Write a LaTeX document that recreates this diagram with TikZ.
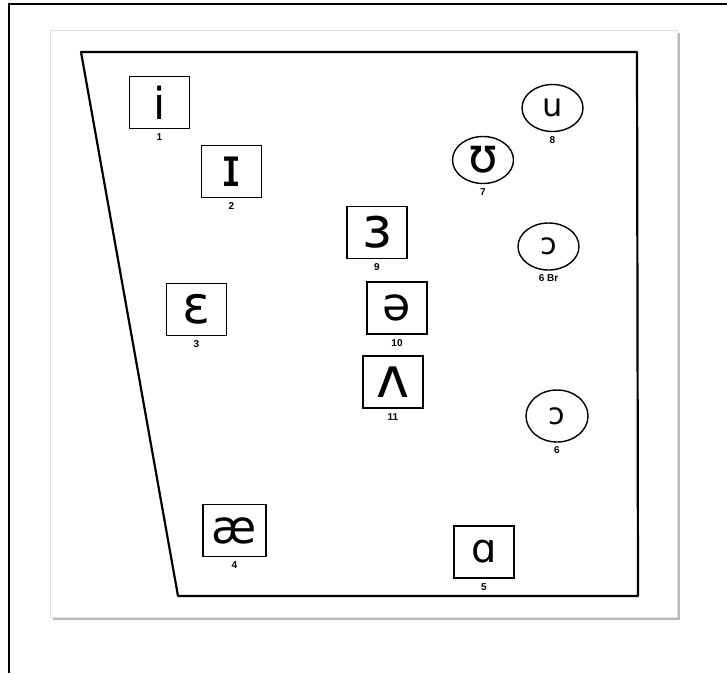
\documentclass[tikz,border=0pt]{standalone}
\usepackage{fontspec}
\setmainfont{Liberation Sans}
\newfontfamily\ipafont{DejaVu Sans}
\usetikzlibrary{positioning,shapes.geometric}

\begin{document}
\begin{tikzpicture}[x=1pt,y=-1pt,
  vowelbox/.style={draw,line width=1.6pt,minimum width=60pt,minimum height=52pt,inner sep=0pt,font=\ipafont\fontsize{#1}{#1}\selectfont},
  vowelring/.style={draw,ellipse,line width=1.4pt,minimum width=61pt,minimum height=47pt,inner sep=0pt,font=\ipafont\fontsize{#1}{#1}\selectfont},
  num/.style={inner sep=1pt,font=\fontsize{10}{10}\selectfont\bfseries}]
  \useasboundingbox (0,0) rectangle (727,673);
  \draw[line width=2pt] (9,673) -- (9,4) -- (727,4);
  \fill[gray!55] (53,33) rectangle (680,620);
  \filldraw[fill=white,draw=gray!25,line width=0.8pt] (50,30) rectangle (677,617);
  \draw[line width=2.2pt,line join=round] (81,52) -- (637,52) -- (638,596) -- (178,596) -- cycle;
  \node[vowelbox=44] (i) at (159.5,102.5) {i};
  \node[vowelbox=54] (ih) at (231.5,171.5) {ɪ};
  \node[vowelbox=56] (er) at (377,232.5) {ɜ};
  \node[vowelbox=46] (schwa) at (397,308) {ə};
  \node[vowelbox=56] (uh) at (393,382) {ʌ};
  \node[vowelbox=52] (eh) at (196.5,309.5) {ɛ};
  \node[vowelbox=46,minimum width=63pt] (ae) at (234.5,530.5) {æ};
  \node[vowelbox=40] (ah) at (484,552) {ɑ};
  \node[vowelring=32] (u) at (552.5,108) {u};
  \node[vowelring=48] (uu) at (483,160) {ʊ};
  \node[vowelring=30] (awbr) at (548.5,246.5) {ɔ};
  \node[vowelring=30,minimum width=62pt,minimum height=52pt] (aw) at (557,416) {ɔ};
  \node[num,below=3.5pt of i] (n1) {1};
  \node[num,below=3.5pt of ih] (n2) {2};
  \node[num,below=3.5pt of eh] (n3) {3};
  \node[num,below=3.5pt of ae] (n4) {4};
  \node[num,below=3.5pt of ah] (n5) {5};
  \node[num,below=3pt of aw] (n6) {6};
  \node[num,below=3pt of awbr] (n6br) {6 Br};
  \node[num,below=3.5pt of uu] (n7) {7};
  \node[num,below=3pt of u] (n8) {8};
  \node[num,below=3.5pt of er] (n9) {9};
  \node[num,below=3.5pt of schwa] (n10) {10};
  \node[num,below=3.5pt of uh] (n11) {11};
\end{tikzpicture}
\end{document}
